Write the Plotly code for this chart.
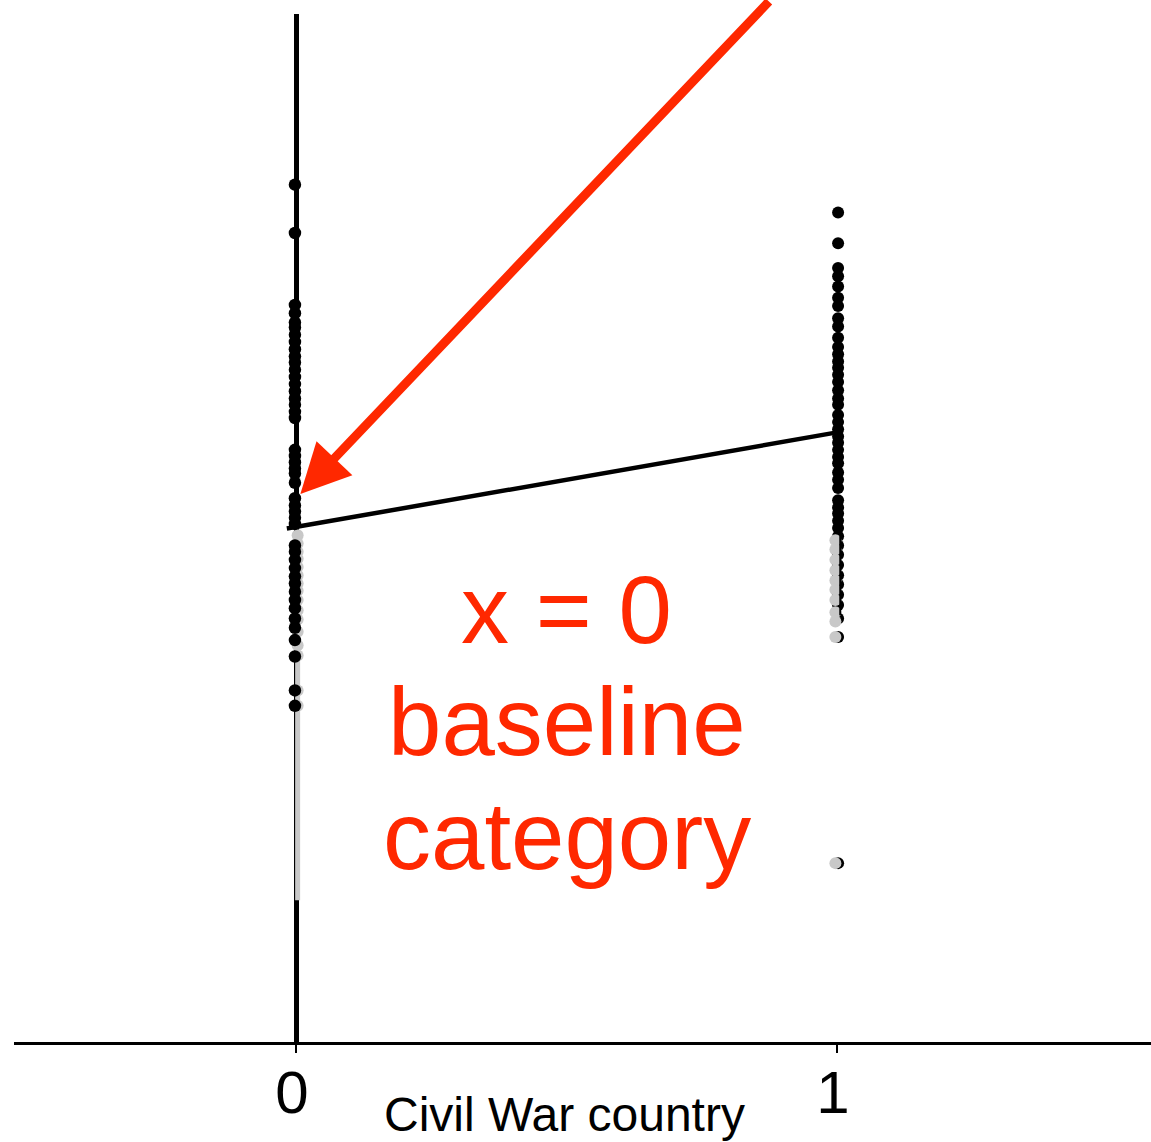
import plotly.graph_objects as go

# Outcome values for countries without (0) and with (1) a civil war
no_war_black = [8.34, 7.87, 7.17, 7.09, 7.00, 6.95, 6.88, 6.81, 6.74, 6.67, 6.61, 6.54,
                6.47, 6.40, 6.33, 6.26, 6.20, 6.13, 6.07, 5.76, 5.70, 5.64, 5.58, 5.53,
                5.44, 5.29, 5.22, 5.16, 5.10, 5.04, 4.83, 4.77, 4.69, 4.61, 4.53, 4.46,
                4.38, 4.30, 4.22, 4.12, 4.03, 3.91, 3.75, 3.42, 3.27]
no_war_gray = [4.93, 4.85, 4.77, 4.70, 4.62, 4.54, 4.46, 4.39, 4.30, 4.20, 4.11, 3.99,
               3.86, 3.76, 3.42, 3.27]
war_black = [8.07, 7.77, 7.53, 7.45, 7.35, 7.24, 7.16, 7.04, 6.96, 6.85, 6.76, 6.69,
             6.62, 6.56, 6.49, 6.42, 6.34, 6.26, 6.20, 6.10, 6.03, 5.96, 5.89, 5.83,
             5.76, 5.69, 5.63, 5.54, 5.47, 5.39, 5.27, 5.20, 5.14, 5.07, 5.00, 4.92,
             4.83, 4.74, 4.64, 4.54, 4.45, 4.35, 4.25, 4.12, 3.94, 1.74]
war_gray = [4.88, 4.79, 4.69, 4.59, 4.49, 4.40, 4.30, 4.18, 4.09, 3.94, 1.74]

no_war_gray_range = [1.38, 4.98]
war_black_range = [4.15, 4.93]

# Fitted line: y = intercept + slope * x
intercept = 5.01
slope = 0.92
fit_x = [-0.017, 1.0]
fit_y = [intercept + slope * x for x in fit_x]

tick_vals = [0, 1]
tick_text = ["0", "1"]

RED = "rgb(255,40,0)"
GRAY = "rgb(200,200,200)"
FONT = "Liberation Sans, Arial, sans-serif"

fig = go.Figure()

# gray range segment along the x=0 column
fig.add_trace(go.Scatter(x=[0.003, 0.003], y=no_war_gray_range, mode="lines",
                         line=dict(color=GRAY, width=5), hoverinfo="skip"))

fig.add_trace(go.Scatter(x=[0.003] * len(no_war_gray), y=no_war_gray, mode="markers",
                         marker=dict(color=GRAY, size=12, line=dict(width=0))))
fig.add_trace(go.Scatter(x=[-0.002] * len(no_war_black), y=no_war_black, mode="markers",
                         marker=dict(color="black", size=12.5, line=dict(width=0))))

fig.add_trace(go.Scatter(x=[1.002] * len(war_black), y=war_black, mode="markers",
                         marker=dict(color="black", size=12, line=dict(width=0))))
fig.add_trace(go.Scatter(x=[0.997] * len(war_gray), y=war_gray, mode="markers",
                         marker=dict(color=GRAY, size=12, line=dict(width=0))))
fig.add_trace(go.Scatter(x=[1.006, 1.006], y=war_black_range, mode="lines",
                         line=dict(color="black", width=2), hoverinfo="skip"))

# fitted line between the two categories
fig.add_trace(go.Scatter(x=fit_x, y=fit_y, mode="lines",
                         line=dict(color="black", width=4.5)))

# arrow pointing at the intercept
fig.add_annotation(x=0.008, y=5.33, xref="x", yref="y", text="",
                   showarrow=True, ax=470, ay=-500, axref="pixel", ayref="pixel",
                   arrowhead=2, arrowsize=1.1, arrowwidth=9, arrowcolor=RED)

# red label
for txt, yv in [("x = 0", 4.21), ("baseline", 3.12), ("category", 2.01)]:
    fig.add_annotation(x=0.50, y=yv, xref="x", yref="y", text=txt, showarrow=False,
                       font=dict(family=FONT, size=96, color=RED),
                       xanchor="center", yanchor="middle")

# x-axis title
fig.add_annotation(x=0.4846, y=-0.071, xref="paper", yref="paper",
                   text="Civil War country", showarrow=False,
                   font=dict(family=FONT, size=48, color="black"),
                   xanchor="center", yanchor="middle")

fig.update_layout(
    width=1151, height=1142,
    margin=dict(l=14, r=0, t=14, b=100),
    paper_bgcolor="white", plot_bgcolor="white",
    showlegend=False,
    xaxis=dict(range=[-0.5213, 1.5804], tickvals=tick_vals, ticktext=tick_text,
               showgrid=False, zeroline=True, zerolinecolor="black", zerolinewidth=5,
               showline=True, linecolor="black", linewidth=3,
               ticks="outside", ticklen=8, tickwidth=1.5, tickcolor="black",
               ticklabelstandoff=-12, ticklabelshift=-4,
               tickfont=dict(family=FONT, size=60, color="black")),
    yaxis=dict(range=[0, 10], showgrid=False, zeroline=False, showline=False,
               showticklabels=False, ticks=""),
)

fig.write_html("out.html")
